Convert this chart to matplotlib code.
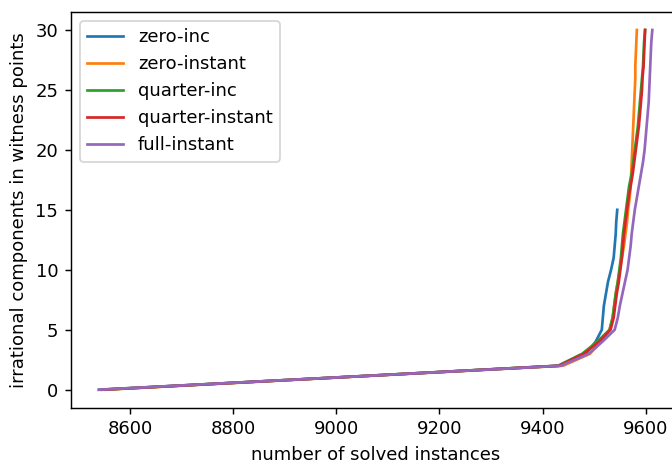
import matplotlib
matplotlib.use("Agg")
import matplotlib.pyplot as plt

labels = ["zero-inc", "zero-instant", "quarter-inc", "quarter-instant", "full-instant"]

zero_inc_y = list(range(0, 16))
zero_inc_x = [8540, 8990, 9433, 9484, 9503, 9515, 9517, 9519, 9523, 9527,
              9533, 9538, 9540, 9542, 9543, 9545]

zero_instant_y = list(range(0, 31))
zero_instant_x = [8552, 8995, 9440, 9492, 9512, 9530, 9536, 9539, 9542, 9546,
                  9550, 9554, 9558, 9561, 9564, 9566, 9569, 9571, 9572, 9573,
                  9574, 9575, 9576, 9577, 9578, 9579, 9580, 9580, 9581, 9582, 9583]

quarter_inc_y = list(range(0, 31))
quarter_inc_x = [8545, 8990, 9430, 9477, 9506, 9530, 9536, 9539, 9542, 9546,
                 9549, 9552, 9554, 9556, 9559, 9562, 9565, 9568, 9573, 9576,
                 9579, 9582, 9585, 9587, 9589, 9591, 9593, 9595, 9596, 9597, 9599]

quarter_instant_y = list(range(0, 31))
quarter_instant_x = [8545, 8992, 9432, 9480, 9510, 9532, 9538, 9541, 9544, 9548,
                     9551, 9554, 9556, 9558, 9561, 9564, 9567, 9571, 9575, 9578,
                     9581, 9584, 9587, 9589, 9591, 9593, 9594, 9596, 9597, 9598, 9599]

full_instant_y = list(range(0, 31))
full_instant_x = [8539, 8990, 9436, 9490, 9516, 9540, 9546, 9550, 9555, 9560,
                  9565, 9568, 9571, 9573, 9576, 9579, 9583, 9587, 9591, 9595,
                  9598, 9600, 9602, 9604, 9606, 9607, 9608, 9609, 9610, 9611, 9613]

series = [
    (zero_inc_x, zero_inc_y),
    (zero_instant_x, zero_instant_y),
    (quarter_inc_x, quarter_inc_y),
    (quarter_instant_x, quarter_instant_y),
    (full_instant_x, full_instant_y),
]

DPI = 130
fig = plt.figure(figsize=(672 / DPI, 461 / DPI), dpi=DPI)
ax = fig.add_axes([71 / 672, (461 - 407.7) / 461, 609 / 672, 395.7 / 461])

for (xs, ys), lab in zip(series, labels):
    ax.plot(xs, ys, label=lab)

ax.set_xlabel("number of solved instances")
ax.set_ylabel("irrational components in witness points")
ax.set_xticks([8600, 8800, 9000, 9200, 9400, 9600])
ax.set_yticks([0, 5, 10, 15, 20, 25, 30])
ax.legend(loc="upper left")

fig.savefig("out.png", dpi=DPI)
